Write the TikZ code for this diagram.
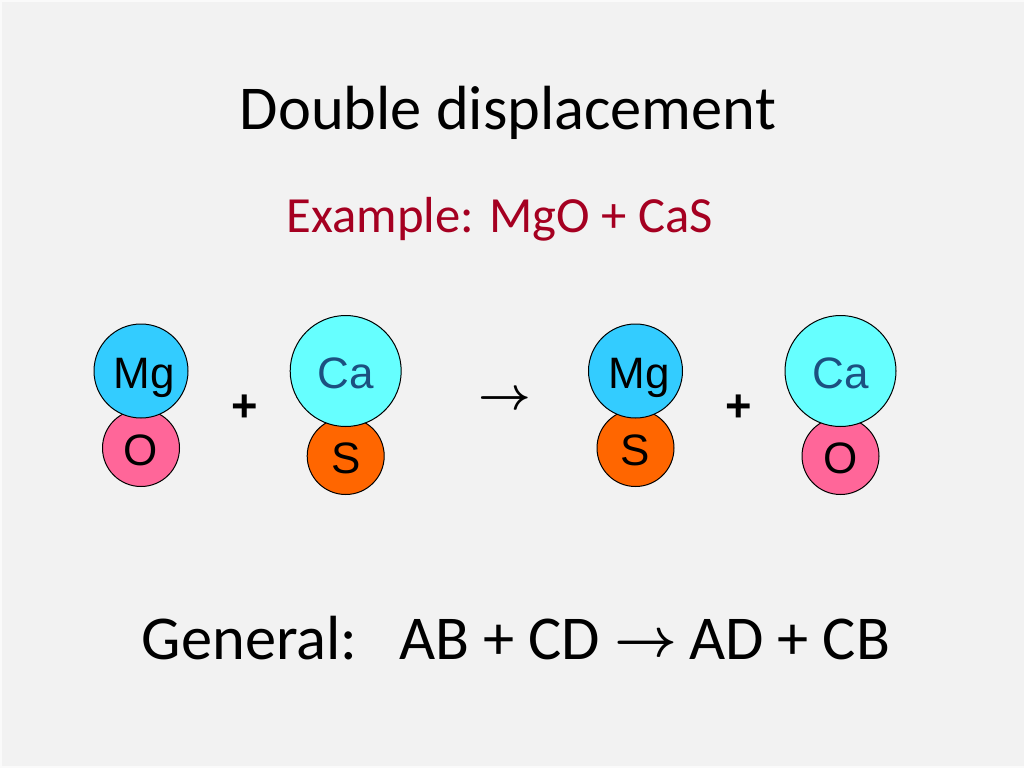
\documentclass[tikz,border=0pt]{standalone}
\usepackage{fontspec}
\setmainfont{Carlito}
\newfontfamily\atomfont{Liberation Sans}
\definecolor{slidegray}{HTML}{F2F2F2}
\definecolor{titlered}{HTML}{A50021}
\definecolor{mgblue}{HTML}{33CCFF}
\definecolor{cacyan}{HTML}{66FFFF}
\definecolor{cablue}{HTML}{1C5080}
\definecolor{opink}{HTML}{FF6699}
\definecolor{sorange}{HTML}{FF6600}
\newcommand{\bigarrow}[1]{\scalebox{#1}{\boldmath$\rightarrow$}}

\begin{document}
\begin{tikzpicture}[
    x=0.75pt, y=-0.75pt, line join=round, line cap=round,
    atom/.style={circle, draw=black, line width=0.75pt, inner sep=0pt,
      minimum size=#1, text height=26pt, text depth=0pt,
      font=\atomfont\fontsize{33}{36}\selectfont},
    plus/.style={font=\atomfont\bfseries\fontsize{34}{38}\selectfont, inner sep=0pt},
    heading/.style={font=\fontsize{46.8}{52}\selectfont, inner sep=0pt}]
  % Fondo
  \useasboundingbox (0,0) rectangle (1024,768);
  \fill[white!60!slidegray] (0,0) rectangle (1024,768);
  \fill[slidegray] (2,2) rectangle (1024,766);
  % Titulos
  \node[heading] (title) at (508,113) {Double displacement};
  \node[font=\fontsize{38}{42}\selectfont, text=titlered, inner sep=0pt] (example) at (500,219) {Example: MgO + CaS};
  % MgO
  \node[atom=57.75pt, fill=opink] (o1) at (141,448) {O\hspace{3.5pt}};
  \node[atom=70.5pt, fill=mgblue] (mg1) at (141,371) {\hspace{4.5pt}Mg};
  \node[plus] (plus1) at (245,408) {+};
  % CaS
  \node[atom=57.75pt, fill=sorange] (s1) at (345.7,456) {S};
  \node[atom=83.25pt, fill=cacyan, text=cablue] (ca1) at (345.7,371) {Ca};
  % Flecha
  \node[heading] (arrow) at (505,401) {\bigarrow{1.38}};
  % MgS
  \node[atom=57.75pt, fill=sorange] (s2) at (635.5,448) {S};
  \node[atom=70.5pt, fill=mgblue] (mg2) at (635.5,371) {\hspace{6pt}Mg};
  \node[plus] (plus2) at (739,408) {+};
  % CaO
  \node[atom=57.75pt, fill=opink] (o2) at (840.5,456) {O\hspace{3pt}};
  \node[atom=83.25pt, fill=cacyan, text=cablue] (ca2) at (840.5,371) {Ca};
  % Ecuacion general
  \node[heading] (general) at (516,638) {General:\hspace{17pt} AB + CD \raisebox{2pt}{\bigarrow{1.65}}\hspace{-1.5pt} AD + CB};
\end{tikzpicture}
\end{document}
